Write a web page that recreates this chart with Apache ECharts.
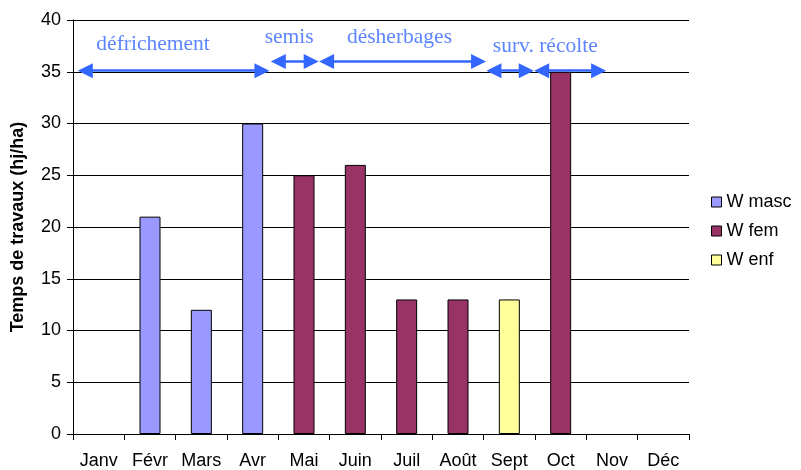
<!DOCTYPE html>
<html><head><meta charset="utf-8">
<script src="https://cdn.jsdelivr.net/npm/echarts@6/dist/echarts.min.js"></script>
<style>html,body{margin:0;padding:0;background:#fff}#c{width:801px;height:470px}</style>
</head><body><div id="c"></div>
<script>
const categories = ['Janv','Févr','Mars','Avr','Mai','Juin','Juil','Août','Sept','Oct','Nov','Déc'];
const wMasc = [null,21,12,30,null,null,null,null,null,null,null,null];
const wFem  = [null,null,null,null,25,26,13,13,null,35,null,null];
const wEnf  = [null,null,null,null,null,null,null,null,13,null,null,null];
const yTicks = [0,5,10,15,20,25,30,35,40];
// annotation arrows (tip to tip) in month units (0..12) and value units
const arrowStarts = [0.1, 3.86, 4.8, 8.06, 8.99];
const arrowEnds   = [3.82, 4.78, 8.04, 8.97, 10.38];
const arrowLevels = [35.1, 36.0, 36.0, 35.1, 35.1];
const phaseNames  = ['défrichement','semis','désherbages','surv. récolte'];
const phaseX      = [1.56, 4.21, 6.36, 9.2];
const phaseY      = [37.6, 38.3, 38.3, 37.5];

const headInset = 0.14; // half arrow-head length, in month units
const chart = echarts.init(document.getElementById('c'), null, {renderer:'canvas'});
const font = 'Liberation Sans, Arial, sans-serif';
const barStyle = (c) => ({color:c, borderColor:'#000', borderWidth:1});
chart.setOption({
  animation:false,
  backgroundColor:'#fff',
  grid:{left:73, right:112, top:20, bottom:35, containLabel:false},
  legend:{
    orient:'vertical', left:706, top:188, itemWidth:10, itemHeight:10, itemGap:11,
    icon:'rect',
    itemStyle:{borderColor:'#000', borderWidth:1},
    textStyle:{fontFamily:font, fontSize:18, color:'#000'},
    data:['W masc','W fem','W enf']
  },
  xAxis:[{
    type:'category', data:categories,
    axisLine:{lineStyle:{color:'#000', width:1}},
    axisTick:{show:true, length:6, inside:false, lineStyle:{color:'#000'}},
    axisLabel:{fontFamily:font, fontSize:18, color:'#000', margin:18, interval:0}
  },{
    type:'value', min:0, max:12, show:false
  }],
  yAxis:{
    type:'value', min:0, max:40, interval:5,
    name:'Temps de travaux (hj/ha)', nameLocation:'middle', nameGap:46, nameRotate:90,
    nameTextStyle:{fontFamily:font, fontSize:18, fontWeight:'bold', color:'#000'},
    axisLine:{show:true, lineStyle:{color:'#000'}},
    axisTick:{show:true, length:6, lineStyle:{color:'#000'}},
    axisLabel:{fontFamily:font, fontSize:18, color:'#000', margin:12,
      formatter:(v)=> yTicks.includes(v) ? String(v) : ''},
    splitLine:{show:true, lineStyle:{color:'#000', width:1}}
  },
  series:[
    {name:'W masc', type:'bar', stack:'a', data:wMasc, barWidth:21, itemStyle:barStyle('#9999FF')},
    {name:'W fem', type:'bar', stack:'a', data:wFem, barWidth:21, itemStyle:barStyle('#993366')},
    {name:'W enf', type:'bar', stack:'a', data:wEnf, barWidth:21, itemStyle:barStyle('#FFFF99')},
    {
      type:'lines', coordinateSystem:'cartesian2d', xAxisIndex:1, yAxisIndex:0,
      symbol:['triangle','triangle'], symbolSize:[15,15],
      lineStyle:{color:'#3366FF', width:2.5, opacity:1},
      z:5,
      data: arrowStarts.map((s,i)=>({coords:[[s+headInset, arrowLevels[i]],[arrowEnds[i]-headInset, arrowLevels[i]]]}))
    },
    {
      type:'scatter', xAxisIndex:1, yAxisIndex:0, symbolSize:0,
      label:{show:true, position:'inside', formatter:(p)=>p.name,
        fontFamily:'Liberation Serif, Times New Roman, serif', fontSize:21.5, color:'#3366FF'},
      data: phaseNames.map((n,i)=>({name:n, value:[phaseX[i], phaseY[i]]})),
      z:6
    }
  ]
});
</script></body></html>
